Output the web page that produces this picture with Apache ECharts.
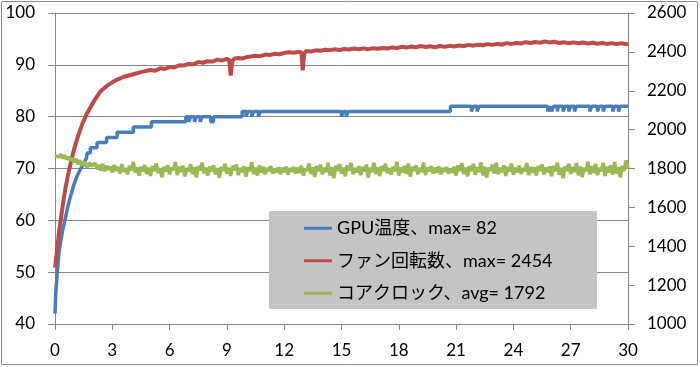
<!DOCTYPE html>
<html><head><meta charset="utf-8">
<script src="https://cdn.jsdelivr.net/npm/echarts@6/dist/echarts.min.js"></script>
<style>html,body{margin:0;padding:0;background:#fff}#c{width:700px;height:367px}</style>
</head><body><div id="c"></div>
<script>
// ---- data ----
const seriesNames = ['GPU温度、max= 82', 'ファン回転数、max= 2454', 'コアクロック、avg= 1792'];
const timeAxis = { min: 0, max: 30, interval: 3 };
const tempAxis = { min: 40, max: 100, interval: 10 };
const rpmAxis = { min: 1000, max: 2600, interval: 200 };

// GPU temperature [minute, °C]
const gpuTemp = [
 [0,42],[0.04,46],[0.12,50],[0.2,53.5],[0.3,56],[0.4,58],[0.52,60],[0.65,62.3],[0.8,64.5],[1.0,67],[1.15,68.5],[1.35,70],[1.5,71],[1.65,72],
 [1.68,73],[1.85,73],[1.85,74],[2.2,74],[2.2,75],[2.7,75],[2.7,76],[3.25,76],[3.25,77],[4.1,77],[4.1,78],[5.05,78],[5.05,79],
 [6.85,79],[6.85,80],[7.0,80],[7.0,79],[7.1,79],[7.1,80],[7.3,80],[7.3,79],[7.4,79],[7.4,80],[7.6,80],[7.6,79],[7.7,79],[7.7,80],
 [8.15,80],[8.15,79],[8.3,79],[8.3,80],[9.8,80],[9.8,81],[10.0,81],[10.0,80],[10.1,80],[10.1,81],[10.3,81],[10.3,80],[10.4,80],[10.4,81],
 [10.65,81],[10.65,80],[10.75,80],[10.75,81],[15.0,81],[15.0,80],[15.1,80],[15.1,81],[15.25,81],[15.25,80],[15.35,80],[15.35,81],
 [20.7,81],[20.7,82],[21.8,82],[21.8,81],[21.9,81],[21.9,82],[22.1,82],[22.1,81],[22.2,81],[22.2,82],
 [25.8,82],[25.8,81],[25.9,81],[25.9,82],[26.0,82],[26.0,81],[26.1,81],[26.1,82],[26.3,82],[26.3,81],[26.35,81],[26.35,82],
 [26.6,82],[26.6,81],[26.7,81],[26.7,82],[26.9,82],[26.9,81],[27.0,81],[27.0,82],[27.2,82],[27.2,81],[27.3,81],[27.3,82],
 [28.0,82],[28.0,81],[28.1,81],[28.1,82],[28.4,82],[28.4,81],[28.5,81],[28.5,82],[28.7,82],[28.7,81],[28.8,81],[28.8,82],
 [29.2,82],[29.2,81],[29.3,81],[29.3,82],[29.5,82],[29.5,81],[29.6,81],[29.6,82],[30,82]
];

// Fan speed [minute, rpm]
const fanSpeed = [
 [0,1290],[0.04,1300],[0.12,1390],[0.2,1465],[0.3,1535],[0.42,1620],[0.55,1700],[0.7,1775],[0.85,1840],[1.0,1900],[1.2,1965],
 [1.45,2035],[1.66,2080],[2.0,2140],[2.36,2195],[2.71,2225],[3.2,2255],[3.6,2272],[4.1,2285],[4.5,2296],
 [5,2307],[5.25,2303],[5.5,2316],[5.75,2312],[6,2322],[6.25,2320],[6.5,2331],[6.75,2330],[7,2338],[7.25,2336],[7.5,2348],[7.75,2344],
 [8,2352],[8.25,2350],[8.5,2360],[8.75,2356],[9,2364],[9.12,2358],[9.2,2278],[9.28,2352],[9.4,2366],[9.6,2368],[9.8,2366],
 [10,2372],[10.25,2376],[10.5,2380],[10.75,2378],[11,2386],[11.25,2384],[11.5,2390],[11.75,2388],[12,2394],[12.25,2398],[12.5,2396],
 [12.75,2400],[12.9,2398],[12.97,2305],[13.05,2392],[13.15,2404],[13.4,2402],[13.65,2408],[13.9,2406],[14.15,2411],[14.4,2409],
 [14.65,2413],[14.9,2410],[15.15,2415],[15.4,2412],[15.65,2417],[15.9,2414],[16.15,2418],[16.4,2414],[16.65,2419],[16.9,2416],
 [17.15,2420],[17.4,2417],[17.65,2423],[17.9,2420],[18.15,2426],[18.4,2422],[18.65,2428],[18.9,2424],[19.15,2430],[19.4,2425],
 [19.65,2429],[19.9,2424],[20.15,2430],[20.4,2426],[20.65,2431],[20.9,2428],[21.15,2433],[21.4,2430],[21.65,2436],[21.9,2432],
 [22.15,2437],[22.4,2434],[22.65,2440],[22.9,2436],[23.15,2441],[23.4,2438],[23.65,2445],[23.9,2441],[24.15,2446],[24.4,2443],
 [24.65,2450],[24.9,2446],[25.15,2451],[25.4,2447],[25.65,2454],[25.9,2448],[26.15,2452],[26.4,2446],[26.65,2450],[26.9,2444],
 [27.15,2449],[27.4,2444],[27.65,2448],[27.9,2443],[28.15,2447],[28.4,2442],[28.65,2446],[28.9,2441],[29.15,2445],[29.4,2440],
 [29.65,2444],[29.9,2440],[30,2442]
];

// Core clock, sampled every 0.1 minute from minute 0 [MHz]
const clockStartMin = 0;
const clockStepMin = 0.1;
const coreClock = [
 1868,1878,1858,1874,1852,1868,1848,1860,1840,1854,
 1832,1850,1822,1842,1815,1834,1820,1806,1830,1812,
 1802,1828,1796,1818,1790,1824,1786,1814,1794,1810,
 1780,1818,1788,1808,1774,1822,1784,1802,1770,1814,
 1790,1834,1780,1806,1764,1808,1786,1818,1772,1804,
 1762,1812,1788,1826,1776,1802,1756,1808,1786,1816,
 1770,1804,1792,1834,1766,1808,1782,1814,1760,1802,
 1786,1822,1772,1806,1754,1812,1790,1830,1776,1804,
 1764,1810,1786,1816,1770,1802,1752,1808,1788,1824,
 1774,1804,1762,1814,1790,1820,1766,1802,1782,1810,
 1758,1806,1786,1832,1772,1804,1764,1816,1780,1808,
 1770,1802,1788,1812,1774,1800,1780,1806,1770,1804,
 1782,1810,1768,1802,1786,1808,1774,1804,1778,1814,
 1764,1800,1788,1826,1772,1806,1756,1812,1786,1820,
 1770,1804,1782,1830,1764,1808,1750,1814,1788,1822,
 1774,1804,1760,1816,1790,1828,1770,1802,1780,1812,
 1766,1808,1786,1820,1754,1804,1782,1830,1772,1806,
 1762,1812,1788,1824,1776,1802,1768,1810,1786,1834,
 1764,1804,1780,1814,1772,1826,1758,1808,1788,1816,
 1770,1802,1782,1830,1766,1806,1786,1812,1774,1804,
 1778,1810,1770,1802,1786,1806,1774,1800,1780,1808,
 1764,1816,1788,1828,1772,1804,1760,1812,1786,1824,
 1768,1806,1782,1832,1764,1810,1754,1804,1788,1820,
 1774,1830,1770,1804,1782,1816,1762,1808,1786,1826,
 1768,1804,1780,1814,1772,1802,1786,1828,1766,1808,
 1778,1806,1764,1812,1788,1822,1770,1804,1782,1810,
 1760,1814,1786,1830,1768,1804,1750,1810,1788,1824,
 1772,1806,1782,1828,1764,1810,1756,1804,1786,1834,
 1770,1812,1778,1824,1766,1804,1786,1830,1762,1808,
 1780,1816,1768,1834,1774,1806,1754,1814,1788,1842,
 1800
];

// ---- chart ----
const colors = ['#4a7ebb', '#be4b48', '#98b954'];
const axisGray = '#868686';
const labelFont = { fontFamily: 'Lato, "Noto Sans CJK JP", sans-serif', fontSize: 17, color: '#000' };

const chart = echarts.init(document.getElementById('c'), null, { renderer: 'canvas' });
chart.setOption({
  animation: false,
  backgroundColor: '#fff',
  grid: { left: 55, right: 72, top: 13, bottom: 43, containLabel: false },
  graphic: [
    { type: 'rect', z: 0, shape: { x: 1.5, y: 1.5, width: 696, height: 363 }, style: { fill: 'none', stroke: '#8c8c8c', lineWidth: 1 } },
    { type: 'rect', z: 3, shape: { x: 269, y: 211, width: 328, height: 98 }, style: { fill: '#c4c4c4' } }
  ],
  legend: {
    orient: 'vertical', left: 304, top: 217, padding: 0, itemGap: 10, z: 5,
    icon: 'rect', itemWidth: 28, itemHeight: 3,
    textStyle: { fontFamily: 'Lato, "Noto Sans CJK JP", sans-serif', fontSize: 18, color: '#000', lineHeight: 22.5 },
    data: seriesNames
  },
  xAxis: {
    type: 'value', min: timeAxis.min, max: timeAxis.max, interval: timeAxis.interval,
    axisLine: { show: true, onZero: false, lineStyle: { color: axisGray, width: 1 } },
    axisTick: { show: true, length: 6, lineStyle: { color: axisGray } },
    axisLabel: Object.assign({ margin: 18 }, labelFont),
    splitLine: { show: false }
  },
  yAxis: [
    {
      type: 'value', min: tempAxis.min, max: tempAxis.max, interval: tempAxis.interval, position: 'left',
      axisLine: { show: true, lineStyle: { color: axisGray } },
      axisTick: { show: true, length: 7, lineStyle: { color: axisGray } },
      axisLabel: Object.assign({ margin: 20, formatter: v => String(v) }, labelFont),
      splitLine: { show: true, lineStyle: { color: axisGray, width: 1 } }
    },
    {
      type: 'value', min: rpmAxis.min, max: rpmAxis.max, interval: rpmAxis.interval, position: 'right',
      axisLine: { show: true, lineStyle: { color: axisGray } },
      axisTick: { show: true, length: 7, lineStyle: { color: axisGray } },
      axisLabel: Object.assign({ margin: 19, formatter: v => String(v) }, labelFont),
      splitLine: { show: false }
    }
  ],
  series: [
    { name: seriesNames[0], type: 'line', yAxisIndex: 0, showSymbol: false, symbol: 'none', data: gpuTemp,
      lineStyle: { color: colors[0], width: 3.5 }, itemStyle: { color: colors[0] } },
    { name: seriesNames[1], type: 'line', yAxisIndex: 1, showSymbol: false, symbol: 'none', data: fanSpeed,
      lineStyle: { color: colors[1], width: 4 }, itemStyle: { color: colors[1] } },
    { name: seriesNames[2], type: 'line', yAxisIndex: 1, showSymbol: false, symbol: 'none',
      data: coreClock.map((v, i) => [clockStartMin + i * clockStepMin, v]),
      lineStyle: { color: colors[2], width: 3.5 }, itemStyle: { color: colors[2] } }
  ]
});
</script>
</body></html>
